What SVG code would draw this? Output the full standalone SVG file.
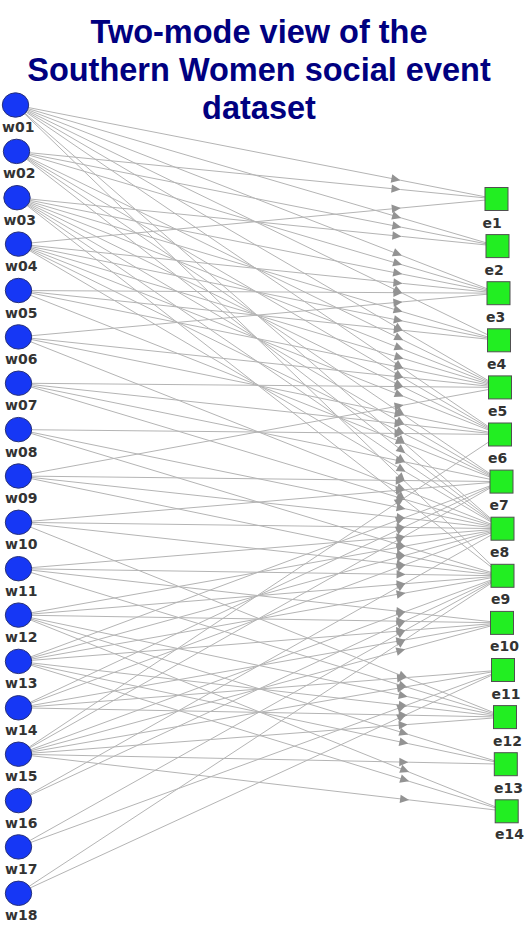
<svg xmlns="http://www.w3.org/2000/svg" width="529" height="925" viewBox="0 0 529 925">
<style>
.title{font-family:"Liberation Sans",Arial,sans-serif;font-weight:bold;font-size:32.5px;fill:#000080;text-anchor:middle}
.edge{fill:none;stroke:#b4b4b4;stroke-width:1;marker-mid:url(#ah)}
.woman{fill:#1637f5;stroke:#26307a;stroke-width:1}
.event{fill:#22ee22;stroke:#505050;stroke-width:1}
.lbl{font-family:"DejaVu Sans",Verdana,sans-serif;font-weight:bold;font-size:14px;fill:#333}
</style>
<defs>
<marker id="ah" markerWidth="10" markerHeight="10" refX="9" refY="4.25" orient="auto" markerUnits="userSpaceOnUse" overflow="visible">
<path d="M0,0 L9,4.25 L0,8.5 Z" fill="#939393"/>
</marker>
</defs>
<rect width="529" height="925" fill="#fff"/>
<g id="title">
<text class="title" x="259" y="43">Two-mode view of the</text>
<text class="title" x="259" y="81">Southern Women social event</text>
<text class="title" x="259" y="118.5">dataset</text>
</g>
<g id="connectors">
<path class="edge" d="M15.5 105 L400.3 180.2 L496.5 199"/>
<path class="edge" d="M15.5 105 L401.1 217.9 L497.5 246.1"/>
<path class="edge" d="M15.5 105 L401.9 255.6 L498.5 293.2"/>
<path class="edge" d="M15.5 105 L402.3 293.2 L499 340.3"/>
<path class="edge" d="M15.5 105 L403.1 330.9 L500 387.4"/>
<path class="edge" d="M15.5 105 L403.1 368.6 L500 434.5"/>
<path class="edge" d="M15.5 105 L405.1 444 L502.5 528.7"/>
<path class="edge" d="M15.5 105 L405.1 481.6 L502.5 575.8"/>
<path class="edge" d="M16.5 151.4 L400.5 189.5 L496.5 199"/>
<path class="edge" d="M16.5 151.4 L401.3 227.2 L497.5 246.1"/>
<path class="edge" d="M16.5 151.4 L402.1 264.8 L498.5 293.2"/>
<path class="edge" d="M16.5 151.4 L403.3 340.2 L500 387.4"/>
<path class="edge" d="M16.5 151.4 L403.3 377.9 L500 434.5"/>
<path class="edge" d="M16.5 151.4 L404.5 415.6 L501.5 481.6"/>
<path class="edge" d="M16.5 151.4 L405.3 453.2 L502.5 528.7"/>
<path class="edge" d="M17 197.7 L401.4 236.4 L497.5 246.1"/>
<path class="edge" d="M17 197.7 L402.2 274.1 L498.5 293.2"/>
<path class="edge" d="M17 197.7 L402.6 311.8 L499 340.3"/>
<path class="edge" d="M17 197.7 L403.4 349.5 L500 387.4"/>
<path class="edge" d="M17 197.7 L403.4 387.1 L500 434.5"/>
<path class="edge" d="M17 197.7 L404.6 424.8 L501.5 481.6"/>
<path class="edge" d="M17 197.7 L405.4 462.5 L502.5 528.7"/>
<path class="edge" d="M17 197.7 L405.4 500.2 L502.5 575.8"/>
<path class="edge" d="M18.5 244.1 L400.8 208 L496.5 199"/>
<path class="edge" d="M18.5 244.1 L402.4 283.4 L498.5 293.2"/>
<path class="edge" d="M18.5 244.1 L402.8 321.1 L499 340.3"/>
<path class="edge" d="M18.5 244.1 L403.6 358.7 L500 387.4"/>
<path class="edge" d="M18.5 244.1 L403.6 396.4 L500 434.5"/>
<path class="edge" d="M18.5 244.1 L404.8 434.1 L501.5 481.6"/>
<path class="edge" d="M18.5 244.1 L405.6 471.8 L502.5 528.7"/>
<path class="edge" d="M18.5 290.5 L402.4 292.7 L498.5 293.2"/>
<path class="edge" d="M18.5 290.5 L402.8 330.3 L499 340.3"/>
<path class="edge" d="M18.5 290.5 L403.6 368 L500 387.4"/>
<path class="edge" d="M18.5 290.5 L404.8 443.4 L501.5 481.6"/>
<path class="edge" d="M18.5 336.9 L402.4 301.9 L498.5 293.2"/>
<path class="edge" d="M18.5 336.9 L403.6 377.3 L500 387.4"/>
<path class="edge" d="M18.5 336.9 L403.6 415 L500 434.5"/>
<path class="edge" d="M18.5 336.9 L405.6 490.3 L502.5 528.7"/>
<path class="edge" d="M18.5 383.2 L403.6 386.6 L500 387.4"/>
<path class="edge" d="M18.5 383.2 L403.6 424.2 L500 434.5"/>
<path class="edge" d="M18.5 383.2 L404.8 461.9 L501.5 481.6"/>
<path class="edge" d="M18.5 383.2 L405.6 499.6 L502.5 528.7"/>
<path class="edge" d="M18.5 429.6 L403.6 433.5 L500 434.5"/>
<path class="edge" d="M18.5 429.6 L405.6 508.9 L502.5 528.7"/>
<path class="edge" d="M18.5 429.6 L405.6 546.6 L502.5 575.8"/>
<path class="edge" d="M18.5 476 L403.6 405.1 L500 387.4"/>
<path class="edge" d="M18.5 476 L404.8 480.5 L501.5 481.6"/>
<path class="edge" d="M18.5 476 L405.6 518.2 L502.5 528.7"/>
<path class="edge" d="M18.5 476 L405.6 555.8 L502.5 575.8"/>
<path class="edge" d="M18.5 522.3 L404.8 489.7 L501.5 481.6"/>
<path class="edge" d="M18.5 522.3 L405.6 527.4 L502.5 528.7"/>
<path class="edge" d="M18.5 522.3 L405.6 565.1 L502.5 575.8"/>
<path class="edge" d="M18.5 522.3 L407.7 678.1 L505 717.1"/>
<path class="edge" d="M18.5 568.7 L405.6 536.7 L502.5 528.7"/>
<path class="edge" d="M18.5 568.7 L405.6 574.4 L502.5 575.8"/>
<path class="edge" d="M18.5 568.7 L405.3 612.1 L502 622.9"/>
<path class="edge" d="M18.5 568.7 L407.7 687.4 L505 717.1"/>
<path class="edge" d="M18.5 615.1 L405.6 546 L502.5 528.7"/>
<path class="edge" d="M18.5 615.1 L405.6 583.7 L502.5 575.8"/>
<path class="edge" d="M18.5 615.1 L405.3 621.3 L502 622.9"/>
<path class="edge" d="M18.5 615.1 L407.7 696.7 L505 717.1"/>
<path class="edge" d="M18.5 615.1 L408.3 734.4 L505.8 764.2"/>
<path class="edge" d="M18.5 615.1 L409.1 772.1 L506.7 811.3"/>
<path class="edge" d="M18.5 661.4 L404.8 517.6 L501.5 481.6"/>
<path class="edge" d="M18.5 661.4 L405.6 555.2 L502.5 528.7"/>
<path class="edge" d="M18.5 661.4 L405.6 592.9 L502.5 575.8"/>
<path class="edge" d="M18.5 661.4 L405.3 630.6 L502 622.9"/>
<path class="edge" d="M18.5 661.4 L407.7 706 L505 717.1"/>
<path class="edge" d="M18.5 661.4 L408.3 743.6 L505.8 764.2"/>
<path class="edge" d="M18.5 661.4 L409.1 781.3 L506.7 811.3"/>
<path class="edge" d="M18.5 707.8 L404.8 526.8 L501.5 481.6"/>
<path class="edge" d="M18.5 707.8 L405.6 564.5 L502.5 528.7"/>
<path class="edge" d="M18.5 707.8 L405.3 639.9 L502 622.9"/>
<path class="edge" d="M18.5 707.8 L406.1 677.6 L503 670"/>
<path class="edge" d="M18.5 707.8 L407.7 715.2 L505 717.1"/>
<path class="edge" d="M18.5 754.2 L403.6 498.4 L500 434.5"/>
<path class="edge" d="M18.5 754.2 L404.8 536.1 L501.5 481.6"/>
<path class="edge" d="M18.5 754.2 L405.6 611.5 L502.5 575.8"/>
<path class="edge" d="M18.5 754.2 L405.3 649.2 L502 622.9"/>
<path class="edge" d="M18.5 754.2 L406.1 686.8 L503 670"/>
<path class="edge" d="M18.5 754.2 L407.7 724.5 L505 717.1"/>
<path class="edge" d="M18.5 754.2 L408.3 762.2 L505.8 764.2"/>
<path class="edge" d="M18.5 754.2 L409.1 799.9 L506.7 811.3"/>
<path class="edge" d="M18.5 800.6 L405.6 583.1 L502.5 528.7"/>
<path class="edge" d="M18.5 800.6 L405.6 620.8 L502.5 575.8"/>
<path class="edge" d="M18.5 846.9 L405.6 630 L502.5 575.8"/>
<path class="edge" d="M18.5 846.9 L406.1 705.4 L503 670"/>
<path class="edge" d="M18.5 893.3 L405.6 639.3 L502.5 575.8"/>
<path class="edge" d="M18.5 893.3 L406.1 714.7 L503 670"/>
</g>
<g id="w01"><ellipse class="woman" cx="15.5" cy="105" rx="13.2" ry="12.2"/><text class="lbl" x="2" y="132">w01</text></g>
<g id="w02"><ellipse class="woman" cx="16.5" cy="151.4" rx="13.2" ry="12.2"/><text class="lbl" x="3" y="178.4">w02</text></g>
<g id="w03"><ellipse class="woman" cx="17" cy="197.7" rx="13.2" ry="12.2"/><text class="lbl" x="3.5" y="224.7">w03</text></g>
<g id="w04"><ellipse class="woman" cx="18.5" cy="244.1" rx="13.2" ry="12.2"/><text class="lbl" x="5" y="271.1">w04</text></g>
<g id="w05"><ellipse class="woman" cx="18.5" cy="290.5" rx="13.2" ry="12.2"/><text class="lbl" x="5" y="317.5">w05</text></g>
<g id="w06"><ellipse class="woman" cx="18.5" cy="336.9" rx="13.2" ry="12.2"/><text class="lbl" x="5" y="363.9">w06</text></g>
<g id="w07"><ellipse class="woman" cx="18.5" cy="383.2" rx="13.2" ry="12.2"/><text class="lbl" x="5" y="410.2">w07</text></g>
<g id="w08"><ellipse class="woman" cx="18.5" cy="429.6" rx="13.2" ry="12.2"/><text class="lbl" x="5" y="456.6">w08</text></g>
<g id="w09"><ellipse class="woman" cx="18.5" cy="476" rx="13.2" ry="12.2"/><text class="lbl" x="5" y="503">w09</text></g>
<g id="w10"><ellipse class="woman" cx="18.5" cy="522.3" rx="13.2" ry="12.2"/><text class="lbl" x="5" y="549.3">w10</text></g>
<g id="w11"><ellipse class="woman" cx="18.5" cy="568.7" rx="13.2" ry="12.2"/><text class="lbl" x="5" y="595.7">w11</text></g>
<g id="w12"><ellipse class="woman" cx="18.5" cy="615.1" rx="13.2" ry="12.2"/><text class="lbl" x="5" y="642.1">w12</text></g>
<g id="w13"><ellipse class="woman" cx="18.5" cy="661.4" rx="13.2" ry="12.2"/><text class="lbl" x="5" y="688.4">w13</text></g>
<g id="w14"><ellipse class="woman" cx="18.5" cy="707.8" rx="13.2" ry="12.2"/><text class="lbl" x="5" y="734.8">w14</text></g>
<g id="w15"><ellipse class="woman" cx="18.5" cy="754.2" rx="13.2" ry="12.2"/><text class="lbl" x="5" y="781.2">w15</text></g>
<g id="w16"><ellipse class="woman" cx="18.5" cy="800.6" rx="13.2" ry="12.2"/><text class="lbl" x="5" y="827.6">w16</text></g>
<g id="w17"><ellipse class="woman" cx="18.5" cy="846.9" rx="13.2" ry="12.2"/><text class="lbl" x="5" y="873.9">w17</text></g>
<g id="w18"><ellipse class="woman" cx="18.5" cy="893.3" rx="13.2" ry="12.2"/><text class="lbl" x="5" y="920.3">w18</text></g>
<g id="e1"><rect class="event" x="485" y="187.5" width="23" height="23"/><text class="lbl" x="482.5" y="227.5">e1</text></g>
<g id="e2"><rect class="event" x="486" y="234.6" width="23" height="23"/><text class="lbl" x="484.5" y="274.6">e2</text></g>
<g id="e3"><rect class="event" x="487" y="281.7" width="23" height="23"/><text class="lbl" x="486" y="321.7">e3</text></g>
<g id="e4"><rect class="event" x="487.5" y="328.8" width="23" height="23"/><text class="lbl" x="487" y="368.8">e4</text></g>
<g id="e5"><rect class="event" x="488.5" y="375.9" width="23" height="23"/><text class="lbl" x="488" y="415.9">e5</text></g>
<g id="e6"><rect class="event" x="488.5" y="423" width="23" height="23"/><text class="lbl" x="488" y="463">e6</text></g>
<g id="e7"><rect class="event" x="490" y="470.1" width="23" height="23"/><text class="lbl" x="489.5" y="510.1">e7</text></g>
<g id="e8"><rect class="event" x="491" y="517.2" width="23" height="23"/><text class="lbl" x="490" y="557.2">e8</text></g>
<g id="e9"><rect class="event" x="491" y="564.3" width="23" height="23"/><text class="lbl" x="491" y="604.3">e9</text></g>
<g id="e10"><rect class="event" x="490.5" y="611.4" width="23" height="23"/><text class="lbl" x="490" y="651.4">e10</text></g>
<g id="e11"><rect class="event" x="491.5" y="658.5" width="23" height="23"/><text class="lbl" x="491.5" y="698.5">e11</text></g>
<g id="e12"><rect class="event" x="493.5" y="705.6" width="23" height="23"/><text class="lbl" x="493" y="745.6">e12</text></g>
<g id="e13"><rect class="event" x="494.3" y="752.7" width="23" height="23"/><text class="lbl" x="494" y="792.7">e13</text></g>
<g id="e14"><rect class="event" x="495.2" y="799.8" width="23" height="23"/><text class="lbl" x="495" y="838.8">e14</text></g>
</svg>
